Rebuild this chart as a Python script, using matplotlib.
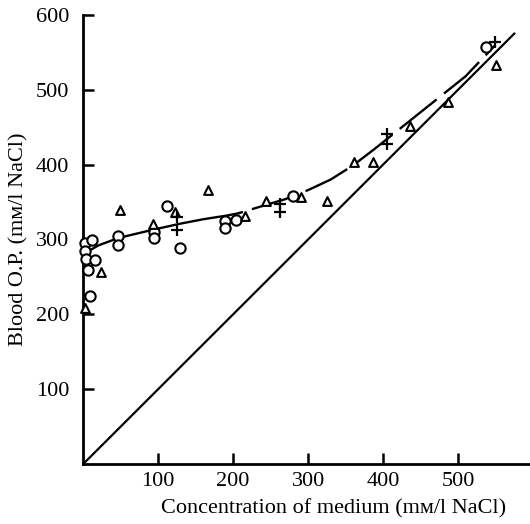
import matplotlib.pyplot as plt

plt.rcParams['font.family'] = ['Liberation Serif', 'DejaVu Serif']

# open circles
circle_x = [3, 2, 4, 12, 16, 7, 9, 47, 47, 95, 94, 112, 129, 189, 189, 204, 280, 537]
circle_y = [295, 284, 274, 299, 272, 259, 224, 304, 293, 310, 302, 345, 288, 325, 315, 326, 358, 557]

# open triangles
tri_x = [2, 24, 49, 93, 122, 166, 216, 244, 290, 325, 361, 387, 436, 487, 551]
tri_y = [208, 256, 340, 321, 337, 366, 332, 351, 357, 351, 404, 404, 451, 484, 533]

# crosses
cross_x = [125, 125, 263, 263, 405, 405, 549]
cross_y = [330, 313, 348, 337, 441, 427, 564]

# fitted curves
solid_x = [3, 20, 47, 93, 129, 160, 192, 207]
solid_y = [282, 292, 302, 313, 321, 327, 332, 335]
dash_x = [207, 240, 270, 300, 330, 360, 390, 420, 450, 480, 510, 550]
dash_y = [335, 345, 354, 366, 380, 399, 422, 446, 470, 494, 518, 560]

# iso-osmotic line
iso_x = [0, 575]
iso_y = [0, 575]

fig = plt.figure(figsize=(5.3, 5.24), dpi=100)
ax = fig.add_axes([0.157, 0.1145, 0.843, 0.857])

ax.plot(iso_x, iso_y, 'k-', lw=1.6, zorder=2)
ax.plot(solid_x, solid_y, 'k-', lw=1.7, zorder=2)
ax.plot(dash_x, dash_y, color='k', lw=1.7, linestyle=(18, (20, 4)), zorder=2)

ax.scatter(circle_x, circle_y, s=55, facecolors='white', edgecolors='black',
           linewidths=1.5, marker='o', zorder=3, clip_on=False)
ax.scatter(tri_x, tri_y, s=40, facecolors='white', edgecolors='black',
           linewidths=1.5, marker='^', zorder=3, clip_on=False)
ax.scatter(cross_x, cross_y, s=70, color='black', linewidths=1.6,
           marker='+', zorder=3, clip_on=False)

ax.set_xlim(0, 596)
ax.set_ylim(0, 600)
ax.set_xticks([100, 200, 300, 400, 500])
ax.set_yticks([100, 200, 300, 400, 500, 600])
ax.tick_params(direction='in', length=8, width=1.8, labelsize=16, pad=6)
ax.tick_params(axis='y', pad=10)

for side in ['top', 'right']:
    ax.spines[side].set_visible(False)
for side in ['left', 'bottom']:
    ax.spines[side].set_linewidth(2)

ax.set_xlabel('Concentration of medium (mм/l NaCl)', fontsize=16)
ax.set_ylabel('Blood O.P. (mм/l NaCl)', fontsize=16)
ax.xaxis.set_label_coords(0.56, -0.077)
ax.yaxis.set_label_coords(-0.123, 0.5)

plt.savefig('out.png', dpi=100)
plt.close()
